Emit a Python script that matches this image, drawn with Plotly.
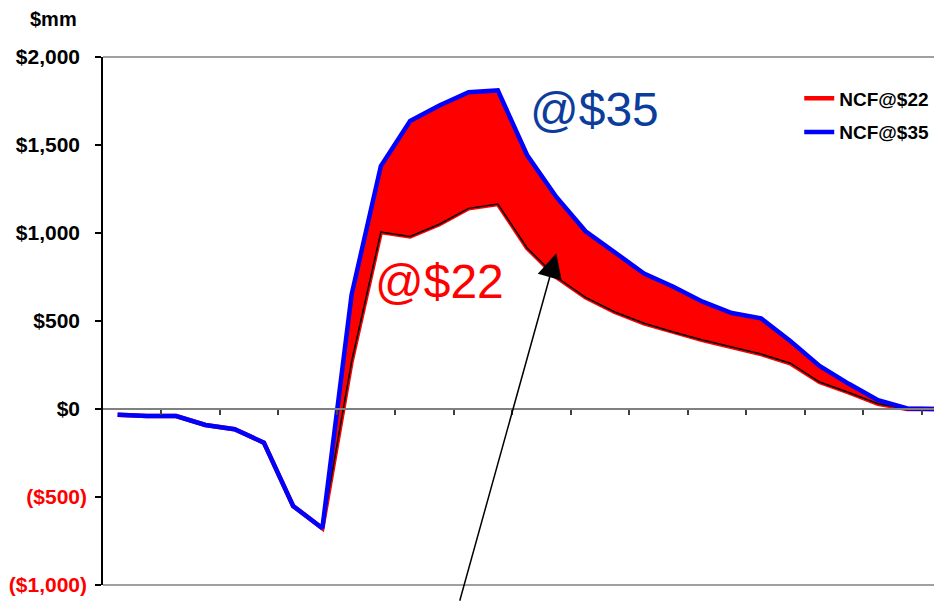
import plotly.graph_objects as go

# ---------------- data ----------------
periods = list(range(1, 30))
ncf_22 = [-32, -40, -40, -91, -115, -191, -551, -678, 270, 1005, 980, 1050, 1140, 1165,
          915, 750, 634, 551, 487, 437, 392, 352, 312, 260, 153, 94, 30, 0, 0]
ncf_35 = [-32, -40, -40, -91, -115, -191, -551, -678, 650, 1380, 1636, 1725, 1800, 1810,
          1443, 1205, 1010, 890, 770, 695, 610, 545, 515, 386, 245, 143, 50, 3, 0]
ytick_vals = [-1000, -500, 0, 500, 1000, 1500, 2000]
ytick_labels = ["($1,000)", "($500)", "$0", "$500", "$1,000", "$1,500", "$2,000"]
xtick_vals = [2.5 + 2 * k for k in range(14)]
label_35 = "@$35"
label_22 = "@$22"
unit_label = "$mm"

FONT = "Arial, Liberation Sans, sans-serif"
RED = "#ff0000"
BLUE = "#0000ff"

start = 7  # spread area begins where the two cases diverge
p_area = periods[start:]
lo_area = ncf_22[start:]
hi_area = ncf_35[start:]

fig = go.Figure()
# red spread fill
fig.add_trace(go.Scatter(x=p_area, y=lo_area, mode="lines", line=dict(width=0, color=RED),
                         showlegend=False, hoverinfo="skip", legendgroup="a"))
fig.add_trace(go.Scatter(x=p_area, y=hi_area, mode="lines", line=dict(width=0, color=RED),
                         fill="tonexty", fillcolor=RED, showlegend=False, hoverinfo="skip",
                         legendgroup="a"))
# NCF@$22 line
fig.add_trace(go.Scatter(x=periods, y=ncf_22, mode="lines", name="NCF@$22",
                         line=dict(color=RED, width=4.5), legendgroup="g1"))
# black outlines of the area
fig.add_trace(go.Scatter(x=p_area, y=lo_area, mode="lines", line=dict(color="black", width=1.5),
                         showlegend=False, hoverinfo="skip", legendgroup="a"))
fig.add_trace(go.Scatter(x=p_area, y=hi_area, mode="lines", line=dict(color="black", width=1.5),
                         showlegend=False, hoverinfo="skip", legendgroup="a"))
# NCF@$35 line
fig.add_trace(go.Scatter(x=periods, y=ncf_35, mode="lines", name="NCF@$35",
                         line=dict(color=BLUE, width=4.5), legendgroup="g2"))

ticktext = []
for v, t in zip(ytick_vals, ytick_labels):
    if v < 0:
        ticktext.append(f"<span style='color:{RED}'>{t}</span>")
    else:
        ticktext.append(f"{t}<span style='color:white'>)</span>")

fig.update_layout(
    width=942, height=601,
    margin=dict(l=95, r=0, t=49, b=24),
    paper_bgcolor="white", plot_bgcolor="white",
    font=dict(family=FONT, color="black"),
    showlegend=True,
    legend=dict(x=0.822, y=0.9576, xanchor="left", yanchor="top",
                font=dict(family=FONT, size=19, color="black", weight="bold"),
                bgcolor="rgba(0,0,0,0)", traceorder="grouped", tracegroupgap=6,
                itemwidth=30),
    xaxis=dict(range=[0.5, 29.46], showgrid=False, zeroline=False,
               showline=True, linecolor="#808080", linewidth=1.5,
               anchor="free", position=1/3,
               ticks="outside", tickvals=xtick_vals, ticklen=5, tickwidth=1.5,
               tickcolor="#404040", showticklabels=False),
    yaxis=dict(range=[-1000, 2000], showgrid=False, zeroline=False,
               showline=True, linecolor="black", linewidth=1.5,
               ticks="outside", ticklen=6, tickwidth=1.5, tickcolor="black",
               tickvals=ytick_vals, ticktext=ticktext, ticklabelstandoff=4,
               tickfont=dict(family=FONT, size=21, color="black", weight="bold")),
    shapes=[
        dict(type="line", xref="paper", yref="paper", x0=0, x1=1, y0=1, y1=1,
             line=dict(color="#808080", width=1.5)),
        dict(type="line", xref="paper", yref="paper", x0=0, x1=1, y0=0, y1=0,
             line=dict(color="#808080", width=1.5)),
    ],
    annotations=[
        dict(text=unit_label, xref="paper", yref="paper", x=-0.0579, y=1.072,
             xanchor="center", yanchor="middle", showarrow=False,
             font=dict(family=FONT, size=20, color="black", weight="bold")),
        dict(text=label_35, xref="x", yref="y", x=17.32, y=1699, xanchor="center",
             yanchor="middle", showarrow=False,
             font=dict(family=FONT, size=48, color="#0d3d9c")),
        dict(text=label_22, xref="x", yref="y", x=12.0, y=722, xanchor="center",
             yanchor="middle", showarrow=False,
             font=dict(family=FONT, size=48, color=RED)),
        dict(text="", xref="x", yref="y", x=16.0, y=885, ax=-97, ay=349,
             axref="pixel", ayref="pixel", showarrow=True, arrowhead=2,
             arrowsize=3.3, arrowwidth=1.5, arrowcolor="black", standoff=0),
    ],
)

fig.write_html("out.html")
